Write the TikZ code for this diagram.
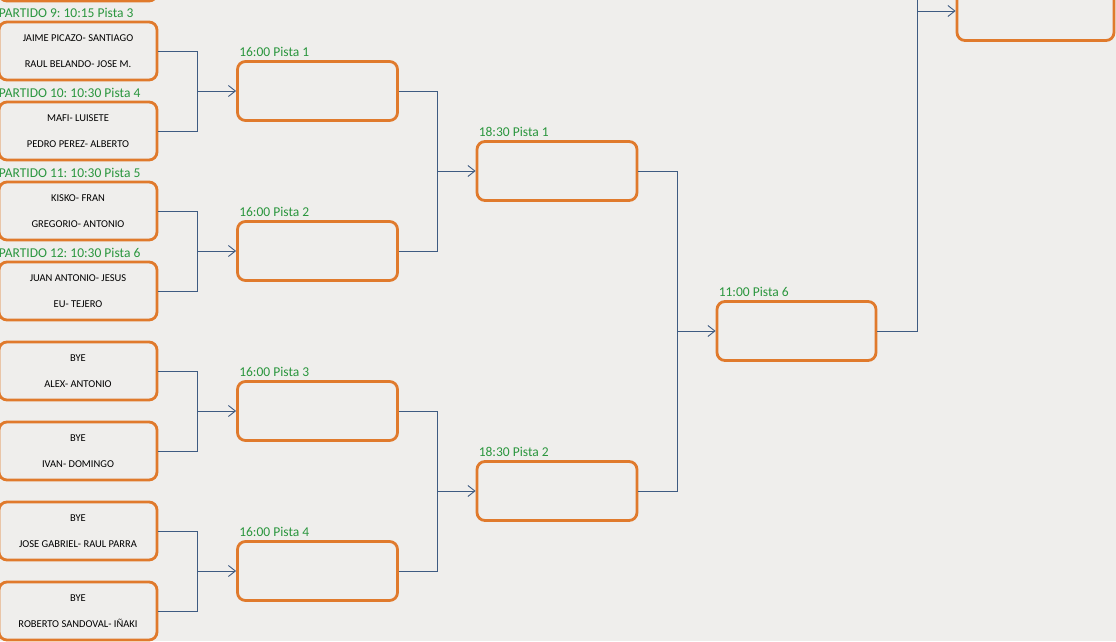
\documentclass[tikz,border=0pt]{standalone}
\usepackage{fontspec}
\setmainfont{Carlito}
\usetikzlibrary{positioning, arrows.meta}
\definecolor{myorange}{HTML}{E07A2C}
\definecolor{mygreen}{HTML}{2A963E}
\definecolor{myblue}{HTML}{3E5B82}
\definecolor{mypaper}{HTML}{EFEEEC}
\tikzset{
	matchbox/.style={draw=myorange, line width=2.8pt, rounded corners=8pt, minimum width=158pt, minimum height=58pt, align=center, inner sep=0pt, font=\fontsize{10.5}{26}\selectfont, text=black}
}
\tikzset{
	roundbox/.style={matchbox, minimum width=160pt, minimum height=59pt}
}
\tikzset{
	greentext/.style={font=\fontsize{13.5}{15}\selectfont\color{mygreen}, inner sep=0pt, anchor=base west}
}
\tikzset{
	link/.style={draw=myblue, line width=0.9pt}
}
\tikzset{
	arrowlink/.style={link, -{Straight Barb[length=7pt, width=11pt]}}
}
\frenchspacing

\begin{document}
\begin{tikzpicture}[x=1pt, y=1pt]
\useasboundingbox (0,0) rectangle (1116,641);
\clip (0,0) rectangle (1116,641);
\fill[mypaper] (0,0) rectangle (1116,641);

\coordinate (cA) at (78,669);
\coordinate (cB) at (78,590);
\coordinate (cC) at (78,510);
\coordinate (cD) at (78,430);
\coordinate (cE) at (78,350);
\coordinate (cF) at (78,270);
\coordinate (cG) at (78,190);
\coordinate (cH) at (78,110);
\coordinate (cI) at (78,30);

\node[matchbox] (pa) at (cA) {};
\node[matchbox] (p1) at (cB) {JAIME PICAZO- SANTIAGO\\RAUL BELANDO- JOSE M.};
\node[matchbox] (p2) at (cC) {MAFI- LUISETE\\PEDRO PEREZ- ALBERTO};
\node[matchbox] (p3) at (cD) {KISKO- FRAN\\GREGORIO- ANTONIO};
\node[matchbox] (p4) at (cE) {JUAN ANTONIO- JESUS\\EU- TEJERO};
\node[matchbox] (p5) at (cF) {BYE\\ALEX- ANTONIO};
\node[matchbox] (p6) at (cG) {BYE\\IVAN- DOMINGO};
\node[matchbox] (p7) at (cH) {BYE\\JOSE GABRIEL- RAUL PARRA};
\node[matchbox] (p8) at (cI) {BYE\\ROBERTO SANDOVAL- IÑAKI};

\node[greentext] (t1) at ([shift={(1,3.5)}]p1.north west) {PARTIDO 9: 10:15 Pista 3};
\node[greentext] (t2) at ([shift={(1,3.5)}]p2.north west) {PARTIDO 10: 10:30 Pista 4};
\node[greentext] (t3) at ([shift={(1,3.5)}]p3.north west) {PARTIDO 11: 10:30 Pista 5};
\node[greentext] (t4) at ([shift={(1,3.5)}]p4.north west) {PARTIDO 12: 10:30 Pista 6};

\node[roundbox] (q1) at (317.5,550) {};
\node[roundbox] (q2) at (317.5,390) {};
\node[roundbox] (q3) at (317.5,230) {};
\node[roundbox] (q4) at (317.5,70) {};

\node[greentext] (u1) at ([shift={(3,3.5)}]q1.north west) {16:00 Pista 1};
\node[greentext] (u2) at ([shift={(3,3.5)}]q2.north west) {16:00 Pista 2};
\node[greentext] (u3) at ([shift={(3,3.5)}]q3.north west) {16:00 Pista 3};
\node[greentext] (u4) at ([shift={(3,3.5)}]q4.north west) {16:00 Pista 4};

\node[roundbox] (r1) at (557,470) {};
\node[roundbox] (r2) at (557,150) {};

\node[greentext] (v1) at ([shift={(3,3.5)}]r1.north west) {18:30 Pista 1};
\node[greentext] (v2) at ([shift={(3,3.5)}]r2.north west) {18:30 Pista 2};

\node[roundbox, minimum width=159pt] (s1) at (796.5,310) {};
\node[greentext] (w1) at ([shift={(3,3.5)}]s1.north west) {11:00 Pista 6};

\node[roundbox, minimum width=157pt] (f1) at (1035.5,630) {};

\coordinate (j1) at (197,550);
\coordinate (j2) at (197,390);
\coordinate (j3) at (197,230);
\coordinate (j4) at (197,70);
\coordinate (j5) at (437,470);
\coordinate (j6) at (437,150);
\coordinate (j7) at (677,310);
\coordinate (j8) at (917,630);
\coordinate (jtop) at (917,700);

\draw[link] (p1.east) -| (j1);
\draw[link] (p2.east) -| (j1);
\draw[arrowlink] (j1) -- (q1.west);
\draw[link] (p3.east) -| (j2);
\draw[link] (p4.east) -| (j2);
\draw[arrowlink] (j2) -- (q2.west);
\draw[link] (p5.east) -| (j3);
\draw[link] (p6.east) -| (j3);
\draw[arrowlink] (j3) -- (q3.west);
\draw[link] (p7.east) -| (j4);
\draw[link] (p8.east) -| (j4);
\draw[arrowlink] (j4) -- (q4.west);

\draw[link] (q1.east) -| (j5);
\draw[link] (q2.east) -| (j5);
\draw[arrowlink] (j5) -- (r1.west);
\draw[link] (q3.east) -| (j6);
\draw[link] (q4.east) -| (j6);
\draw[arrowlink] (j6) -- (r2.west);

\draw[link] (r1.east) -| (j7);
\draw[link] (r2.east) -| (j7);
\draw[arrowlink] (j7) -- (s1.west);

\draw[link] (s1.east) -| (j8);
\draw[link] (jtop) -- (j8);
\draw[arrowlink] (j8) -- (f1.west);

\end{tikzpicture}
\end{document}
